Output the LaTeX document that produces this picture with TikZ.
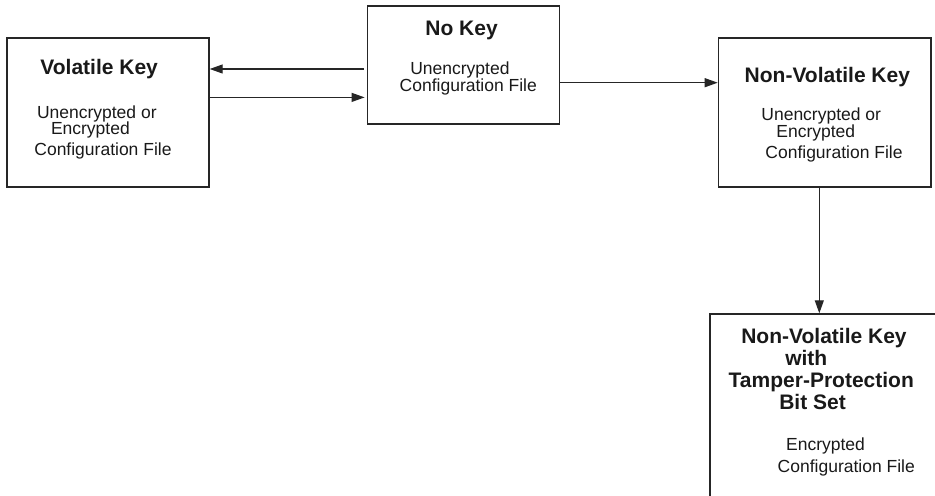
\documentclass[tikz,border=0pt]{standalone}
\usepackage{fontspec}
\setmainfont{Liberation Sans}
\usepackage{tikz}
\usetikzlibrary{positioning, arrows.meta}

\tikzset{
  box/.style={draw=black!85, line width=0.7pt, inner sep=0pt},
  title/.style={font=\bfseries\fontsize{10.5}{11}\selectfont, anchor=base west,
                align=left, inner sep=0pt, text=black!90},
  body/.style={font=\fontsize{8.75}{8.4}\selectfont, anchor=base west,
               align=left, inner sep=0pt, text=black!90},
  arr/.style={-{Triangle[length=6.5pt, width=4.5pt]}, line width=0.6pt, draw=black!85}
}

\begin{document}
\begin{tikzpicture}[x=0.5pt, y=-0.5pt]
  \clip (0,0) rectangle (935,496);

  % boxes
  \node[box, minimum width=101pt, minimum height=74.5pt] (vk) at (108,112.5) {};
  \node[box, minimum width=96pt, minimum height=59pt] (nk) at (463.3,65) {};
  \node[box, minimum width=106.3pt, minimum height=74.5pt] (nv) at (824.7,112.5) {};
  \node[box, minimum width=117.5pt, minimum height=98pt] (tp) at (827.5,412) {};

  % texts (multi-line nodes sit on the baseline of their last line)
  \node[title] (vktitle) at (40,75) {Volatile Key};
  \node[body] (vktext) at (34,155.5) {%
    \hspace*{1.3pt}Unencrypted or\\
    \hspace*{8.3pt}Encrypted\\[1.9pt]
    Configuration File};

  \node[title] (nktitle) at (425,36) {No Key};
  \node[body] (nktext) at (399.3,91.7) {%
    \hspace*{5.3pt}Unencrypted\\[0.3pt]
    Configuration File};

  \node[title] (nvtitle) at (744.3,83) {Non-Volatile Key};
  \node[body] (nvtext) at (761,158.3) {%
    Unencrypted or\\
    \hspace*{7.5pt}Encrypted\\[1.9pt]
    \hspace*{2pt}Configuration File};

  \node[title] (tptitle) at (728.3,409.3) {%
    \hspace*{6.3pt}Non-Volatile Key\\
    \hspace*{28.3pt}with\\
    Tamper-Protection\\
    \hspace*{25.3pt}Bit Set};
  \node[body] (tptext) at (777.3,472.7) {%
    \hspace*{4.2pt}Encrypted\\[2.6pt]
    Configuration File};

  % connectors
  \coordinate (up) at ([yshift=-2pt]nk.west);
  \coordinate (lo) at ([yshift=-16.2pt]nk.west);
  \coordinate (mid) at ([yshift=-8.85pt]nk.east);
  \coordinate (dn) at ([xshift=-2.7pt]nv.south);
  \draw[arr, shorten <=1.2pt] (up) -- (up -| vk.east);
  \draw[arr, shorten >=1pt] (lo -| vk.east) -- (lo);
  \draw[arr] (mid) -- (mid -| nv.west);
  \draw[arr] (dn) -- (dn |- tp.north);
\end{tikzpicture}
\end{document}
